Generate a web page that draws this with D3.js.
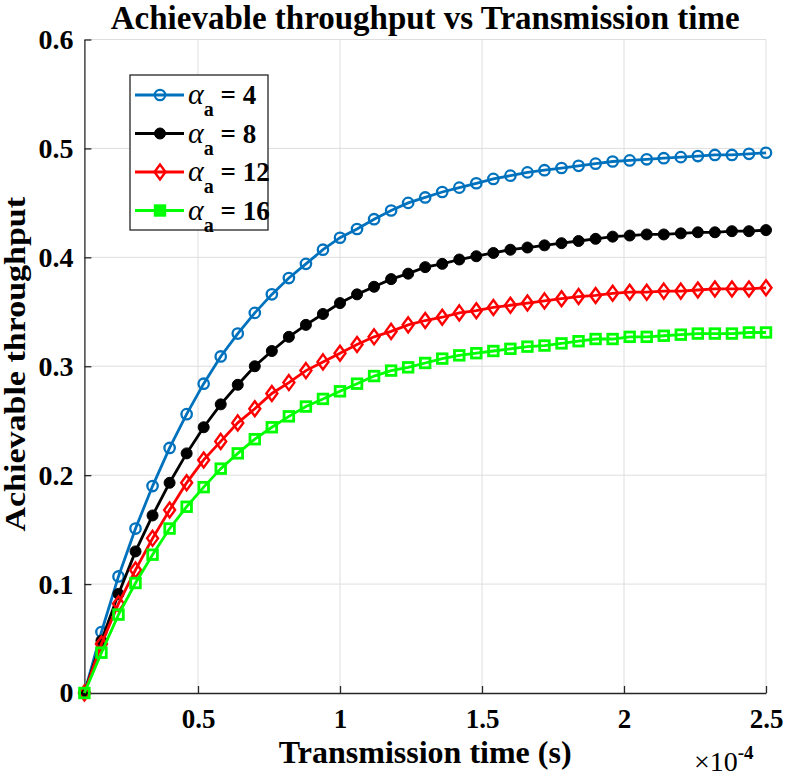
<!DOCTYPE html>
<html>
<head>
<meta charset="utf-8">
<script src="https://cdn.jsdelivr.net/npm/d3@7"></script>
<style>
  body { margin: 0; background: #fff; }
  svg text { font-family: "Liberation Serif", "Times New Roman", serif; font-weight: bold; }
</style>
</head>
<body>
<div id="chart"></div>
<script>
// transmission time, in units of 1e-4 s
var times = [0.10, 0.16, 0.22, 0.28, 0.34, 0.40, 0.46, 0.52, 0.58, 0.64,
             0.70, 0.76, 0.82, 0.88, 0.94, 1.00, 1.06, 1.12, 1.18, 1.24,
             1.30, 1.36, 1.42, 1.48, 1.54, 1.60, 1.66, 1.72, 1.78, 1.84,
             1.90, 1.96, 2.02, 2.08, 2.14, 2.20, 2.26, 2.32, 2.38, 2.44, 2.50];

var alpha4 = [0, 0.056, 0.107, 0.151, 0.190, 0.225, 0.256, 0.284, 0.309, 0.330,
              0.349, 0.366, 0.381, 0.394, 0.407, 0.418, 0.426, 0.435, 0.443, 0.450,
              0.455, 0.460, 0.464, 0.468, 0.472, 0.475, 0.478, 0.480, 0.482, 0.484,
              0.486, 0.488, 0.489, 0.490, 0.491, 0.492, 0.493, 0.494, 0.494, 0.495, 0.496];
var alpha8 = [0, 0.048, 0.091, 0.130, 0.163, 0.193, 0.220, 0.244, 0.265, 0.283,
              0.300, 0.314, 0.327, 0.338, 0.348, 0.358, 0.366, 0.373, 0.380, 0.385,
              0.391, 0.394, 0.398, 0.401, 0.404, 0.407, 0.409, 0.411, 0.413, 0.415,
              0.417, 0.419, 0.420, 0.421, 0.421, 0.422, 0.423, 0.423, 0.424, 0.424, 0.425];
var alpha12 = [0, 0.045, 0.082, 0.113, 0.142, 0.168, 0.193, 0.214, 0.231, 0.248,
               0.261, 0.275, 0.285, 0.296, 0.304, 0.312, 0.320, 0.327, 0.332, 0.338,
               0.342, 0.345, 0.349, 0.351, 0.354, 0.356, 0.358, 0.360, 0.362, 0.364,
               0.365, 0.367, 0.368, 0.368, 0.369, 0.369, 0.370, 0.371, 0.371, 0.371, 0.372];
var alpha16 = [0, 0.037, 0.072, 0.101, 0.127, 0.151, 0.171, 0.189, 0.206, 0.220,
               0.233, 0.244, 0.254, 0.263, 0.270, 0.277, 0.284, 0.291, 0.296, 0.299,
               0.303, 0.307, 0.310, 0.312, 0.314, 0.316, 0.318, 0.319, 0.321, 0.323,
               0.325, 0.325, 0.327, 0.327, 0.328, 0.329, 0.330, 0.330, 0.330, 0.331, 0.331];

var xTicks = [0.5, 1, 1.5, 2, 2.5];
var yTicks = [0, 0.1, 0.2, 0.3, 0.4, 0.5, 0.6];
var legendLabels = ["4", "8", "12", "16"];

var series = [
  {name: legendLabels[0], values: alpha4,  color: "#0072BD", marker: "circle"},
  {name: legendLabels[1], values: alpha8,  color: "#000000", marker: "dot"},
  {name: legendLabels[2], values: alpha12, color: "#FF0000", marker: "diamond"},
  {name: legendLabels[3], values: alpha16, color: "#00FF00", marker: "square"}
];

var W = 785, H = 780;
var plotLeft = 84.4, plotRight = 766, plotTop = 39.5, plotBottom = 693;

var svg = d3.select("#chart").append("svg")
  .attr("width", W).attr("height", H);

var x = d3.scaleLinear().domain([0.1, 2.5]).range([plotLeft, plotRight]);
var y = d3.scaleLinear().domain([0, 0.6]).range([plotBottom, plotTop]);

// grid
var grid = svg.append("g");
grid.selectAll(".gx").data(xTicks).enter().append("line")
  .attr("x1", d => x(d)).attr("x2", d => x(d))
  .attr("y1", plotTop).attr("y2", plotBottom)
  .attr("stroke", "#dedede").attr("stroke-width", 1);
grid.selectAll(".gy").data(yTicks.slice(1)).enter().append("line")
  .attr("x1", plotLeft).attr("x2", plotRight)
  .attr("y1", d => y(d)).attr("y2", d => y(d))
  .attr("stroke", "#dedede").attr("stroke-width", 1);

// axes (ticks pointing inward)
var xAxis = d3.axisBottom(x).tickValues(xTicks).tickSizeInner(-7).tickSizeOuter(0)
  .tickFormat(d3.format("~g"));
var yAxis = d3.axisLeft(y).tickValues(yTicks).tickSizeInner(-7).tickSizeOuter(0)
  .tickPadding(11).tickFormat(d3.format("~g"));

var gx = svg.append("g").attr("transform", "translate(0," + plotBottom + ")").call(xAxis);
var gy = svg.append("g").attr("transform", "translate(" + plotLeft + ",0)").call(yAxis);
[gx, gy].forEach(function(g){
  g.select(".domain").attr("stroke", "#262626").attr("stroke-width", 1.3);
  g.selectAll(".tick line").attr("stroke", "#262626").attr("stroke-width", 1.3);
  g.selectAll(".tick text").attr("fill", "#000")
    .style("font-family", "Liberation Serif").style("font-weight", "bold")
    .style("font-size", "28px");
});
gx.selectAll(".tick text").attr("y", 35).attr("dy", null).style("font-size", "27px");

// series
var line = d3.line().x((d, i) => x(times[i])).y(d => y(d));

function drawMarker(g, type, color, cx, cy, legend){
  if (type === "circle") {
    g.append("circle").attr("cx", cx).attr("cy", cy).attr("r", 5.2)
      .attr("fill", "none").attr("stroke", color).attr("stroke-width", 2.3);
  } else if (type === "dot") {
    g.append("circle").attr("cx", cx).attr("cy", cy).attr("r", 5.5)
      .attr("fill", color).attr("stroke", color).attr("stroke-width", 1);
  } else if (type === "diamond") {
    g.append("path")
      .attr("d", "M" + cx + "," + (cy - 7.5) + "L" + (cx + 5.5) + "," + cy + "L" + cx + "," + (cy + 7.5) + "L" + (cx - 5.5) + "," + cy + "Z")
      .attr("fill", "none").attr("stroke", color).attr("stroke-width", 2.4);
  } else {
    g.append("rect").attr("x", cx - 4.8).attr("y", cy - 4.8).attr("width", 9.6).attr("height", 9.6)
      .attr("fill", legend ? color : "none").attr("stroke", color).attr("stroke-width", 2.8);
  }
}

series.forEach(function(s){
  var g = svg.append("g");
  g.append("path").datum(s.values)
    .attr("d", line).attr("fill", "none")
    .attr("stroke", s.color).attr("stroke-width", 2.8);
  s.values.forEach(function(v, i){
    drawMarker(g, s.marker, s.color, x(times[i]), y(v), false);
  });
});

// legend
var lg = svg.append("g");
lg.append("rect").attr("x", 130).attr("y", 75).attr("width", 138).attr("height", 155)
  .attr("fill", "#fff").attr("stroke", "#262626").attr("stroke-width", 1.3);
series.forEach(function(s, i){
  var yy = 95 + i * 38.5;
  lg.append("line").attr("x1", 135).attr("x2", 184).attr("y1", yy).attr("y2", yy)
    .attr("stroke", s.color).attr("stroke-width", 2.8);
  drawMarker(lg, s.marker, s.color, 160, yy, true);
  var t = lg.append("text").attr("x", 188).attr("y", yy + 9).style("font-size", "27px");
  t.append("tspan").text("\u03B1").style("font-style", "italic").style("font-weight", "normal")
    .style("font-size", "30px");
  t.append("tspan").text("a").attr("dy", 12).style("font-size", "20px");
  t.append("tspan").text(" = " + s.name).attr("dy", -12);
});

// title and labels
svg.append("text").attr("x", (plotLeft + plotRight) / 2).attr("y", 29)
  .attr("text-anchor", "middle").style("font-size", "33px")
  .text("Achievable throughput vs Transmission time");
svg.append("text").attr("x", (plotLeft + plotRight) / 2).attr("y", 763)
  .attr("text-anchor", "middle").style("font-size", "32px")
  .text("Transmission time (s)");
svg.append("text")
  .attr("transform", "translate(25," + ((plotTop + plotBottom) / 2 - 2) + ") rotate(-90) scale(1,0.85)")
  .attr("text-anchor", "middle").style("font-size", "34px")
  .text("Achievable throughput");
var ex = svg.append("text").attr("x", 694).attr("y", 771).style("font-size", "28px");
ex.append("tspan").text("\u00D7").style("font-weight", "normal");
ex.append("tspan").text("10").style("font-weight", "normal");
ex.append("tspan").text("-4").attr("dy", -12).style("font-size", "19px").style("font-weight", "bold");
</script>
</body>
</html>
